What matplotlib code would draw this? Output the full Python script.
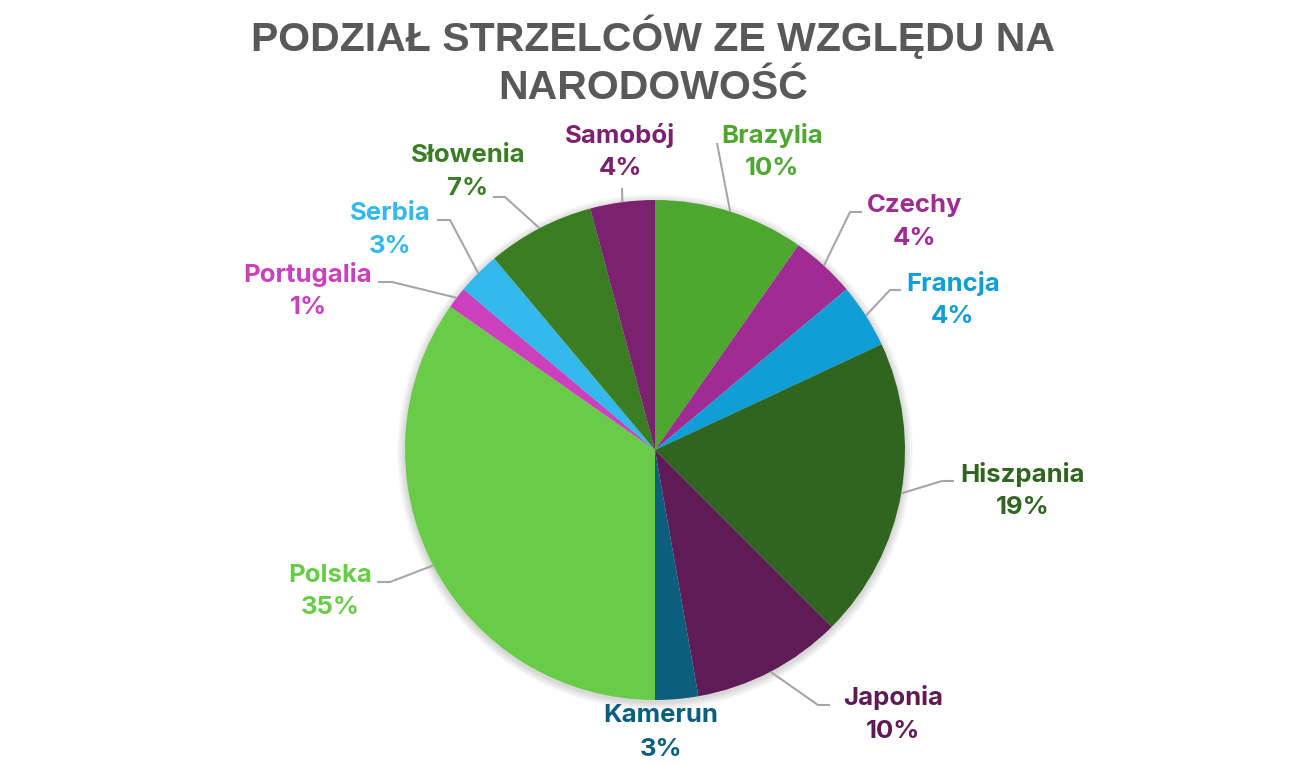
import numpy as np
import matplotlib
matplotlib.use("Agg")
import matplotlib.pyplot as plt
from matplotlib.patches import Circle

# Data: number of goals by scorer nationality
countries = ['Brazylia', 'Czechy', 'Francja', 'Hiszpania', 'Japonia', 'Kamerun',
             'Polska', 'Portugalia', 'Serbia', 'Słowenia', 'Samobój']
goals = [7, 3, 3, 14, 7, 2, 25, 1, 2, 5, 3]
colors = ['#4EA72E', '#A02B93', '#0F9ED5', '#2F651E', '#5F1B55', '#0B5E7E',
          '#69CC48', '#CC40BE', '#34B9ED', '#3A7D22', '#7C2170']

title = 'PODZIAŁ STRZELCÓW ZE WZGLĘDU NA\nNARODOWOŚĆ'

# Layout (pixels from top-left): label centres and leader-line tips
W, H = 1306, 765
cx, cy, R = 655, 450, 250
label_pos = {
    'Brazylia': (772, 135), 'Czechy': (915, 205), 'Francja': (953, 283),
    'Hiszpania': (1023, 474), 'Japonia': (893, 698), 'Kamerun': (661, 716),
    'Polska': (330, 575), 'Portugalia': (308, 274), 'Serbia': (390, 213),
    'Słowenia': (468, 155), 'Samobój': (620, 135),
}
# tip of leader near label, and horizontal elbow length (signed)
leader = {
    'Brazylia': ((717, 143), 0), 'Czechy': ((862, 212), -12),
    'Francja': ((901, 290), -11), 'Hiszpania': ((954, 481), -12),
    'Japonia': ((830, 705), -12), 'Polska': ((377, 582), 13),
    'Portugalia': ((378, 282), 14), 'Serbia': ((437, 220), 13),
    'Słowenia': ((493, 197), 12), 'Samobój': ((622, 188), 0),
}

plt.rcParams['font.family'] = ['Inter', 'DejaVu Sans']

fig = plt.figure(figsize=(W / 100, H / 100), dpi=100)
ax = fig.add_axes([0, 0, 1, 1])

def py(y):
    return H - y

# soft shadow under the pie
for i in range(8):
    ax.add_patch(Circle((cx, py(cy) - 2), R + 1 + i, color='black',
                        alpha=0.018, lw=0, zorder=0))

wedges, _ = ax.pie(goals, colors=colors, startangle=90, counterclock=False,
                   radius=R, center=(cx, py(cy)), frame=True,
                   wedgeprops=dict(linewidth=0))
ax.set_xlim(0, W)
ax.set_ylim(0, H)
ax.set_aspect('equal')
ax.axis('off')

total = sum(goals)
for w, name, g, col in zip(wedges, countries, goals, colors):
    pct = f'{round(100 * g / total):.0f}%'
    x, y = label_pos[name]
    ax.text(x, py(y), name, ha='center', va='center', fontsize=18.5,
            fontweight='bold', color=col)
    ax.text(x, py(y + 33), pct, ha='center', va='center', fontsize=18.5,
            fontweight='bold', color=col)
    if name in leader:
        ang = np.deg2rad((w.theta1 + w.theta2) / 2)
        ex = cx + R * np.cos(ang)
        ey = py(cy) + R * np.sin(ang)
        (tx, ty), elb = leader[name]
        xs = [tx, tx + elb, ex]
        ys = [py(ty), py(ty), ey]
        ax.plot(xs, ys, color='#A6A6A6', lw=1.5, zorder=1,
                solid_capstyle='butt')

fig.text(0.5, 1 - 61 / H, title, ha='center', va='center', fontsize=29.5,
         fontweight='bold', color='#595959', linespacing=1.32,
         family=['Liberation Sans', 'DejaVu Sans'])

plt.savefig('out.png', dpi=100)
